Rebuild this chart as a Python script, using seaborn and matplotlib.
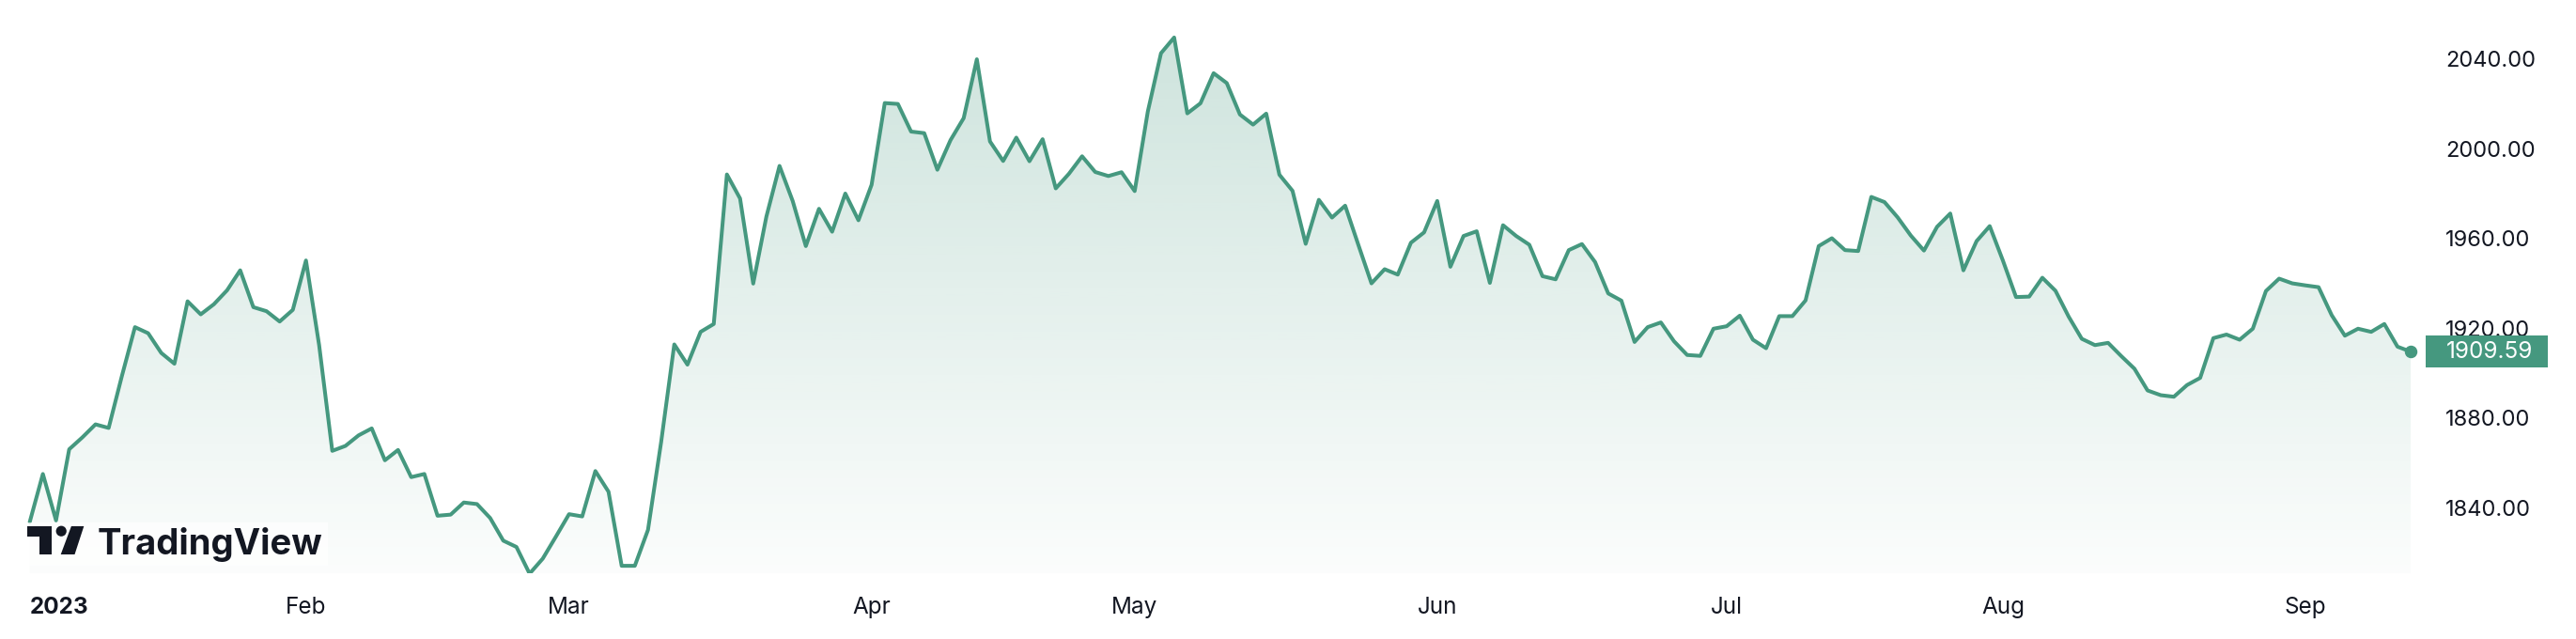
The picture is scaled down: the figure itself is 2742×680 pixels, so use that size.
import numpy as np
import pandas as pd
import matplotlib
matplotlib.use("Agg")
import matplotlib.pyplot as plt
import matplotlib.colors as mcolors
from matplotlib.patches import Rectangle, Circle, Polygon, FancyBboxPatch
from matplotlib.transforms import blended_transform_factory
import seaborn as sns

# daily closes, 3 Jan - 13 Sep 2023
price = [
    1833.7, 1855.1, 1834.4, 1866.1, 1871.4, 1877.2, 1875.6, 1898.6, 1920.5, 1917.8,
    1909.0, 1904.2, 1932.0, 1926.2, 1930.7, 1936.9, 1945.8, 1929.4, 1927.6, 1923.0,
    1928.2, 1950.2, 1912.5, 1865.4, 1867.6, 1872.3, 1875.4, 1861.2, 1865.8, 1853.7,
    1855.1, 1836.5, 1837.0, 1842.4, 1841.7, 1835.5, 1825.4, 1822.6, 1810.7, 1817.4,
    1827.2, 1837.2, 1836.2, 1856.4, 1847.2, 1814.2, 1814.2, 1830.2, 1869.3, 1912.8,
    1903.8, 1918.4, 1921.9, 1988.5, 1977.8, 1939.9, 1969.7, 1992.3, 1976.7, 1956.6,
    1973.2, 1963.0, 1980.0, 1968.1, 1983.9, 2020.3, 2019.9, 2007.6, 2006.9, 1990.6,
    2003.8, 2013.6, 2039.8, 2003.2, 1994.5, 2004.9, 1994.4, 2004.2, 1982.3, 1988.8,
    1996.6, 1989.6, 1987.8, 1989.5, 1981.1, 2016.6, 2042.5, 2049.5, 2015.7, 2020.2,
    2033.6, 2029.2, 2015.2, 2010.7, 2015.6, 1988.4, 1981.2, 1957.6, 1977.2, 1969.3,
    1974.6, 1957.2, 1940.0, 1946.3, 1943.9, 1958.1, 1962.7, 1976.7, 1947.4, 1961.1,
    1963.2, 1940.2, 1965.9, 1961.1, 1957.2, 1943.2, 1941.8, 1954.8, 1957.5, 1949.5,
    1935.5, 1932.3, 1913.9, 1920.5, 1922.6, 1914.2, 1908.1, 1907.7, 1919.8, 1920.9,
    1925.6, 1914.9, 1911.1, 1925.4, 1925.4, 1932.4, 1956.6, 1960.1, 1954.8, 1954.4,
    1978.5, 1976.2, 1969.4, 1961.3, 1954.6, 1965.2, 1971.1, 1945.8, 1958.8, 1965.5,
    1950.2, 1933.9, 1934.1, 1942.5, 1936.7, 1925.2, 1915.3, 1912.5, 1913.5, 1907.6,
    1902.0, 1892.3, 1890.2, 1889.5, 1894.7, 1897.9, 1915.6, 1917.2, 1914.9, 1919.8,
    1936.6, 1942.1, 1940.0, 1939.1, 1938.3, 1925.8, 1916.7, 1919.8, 1918.4, 1921.9,
    1911.8, 1909.59,
]
dates = pd.bdate_range("2023-01-03", periods=len(price))
month_labels = ["2023", "Feb", "Mar", "Apr", "May", "Jun", "Jul", "Aug", "Sep"]
y_ticks = [1840, 1880, 1920, 1960, 2000, 2040]
last_label = "1909.59"

GREEN = "#45987f"
TEXT = "#131722"

sns.set_style("white")
plt.rcParams["font.family"] = ["Inter", "DejaVu Sans"]

W, H = 2742, 680
fig = plt.figure(figsize=(W / 100, H / 100), dpi=100)
fig.patch.set_facecolor("white")
ax = fig.add_axes([0, 70 / H, 2580 / W, 610 / H])

df = pd.DataFrame({"date": dates, "price": price})
df["i"] = np.arange(len(df))

y_lo, y_hi = 1810.9, 2066.2
x_lo, x_hi = -2.26, 182.0

# gradient area under the line
rgba = np.zeros((256, 1, 4))
rgba[..., :3] = mcolors.to_rgb(GREEN)
rgba[..., 3] = np.linspace(0.28, 0.02, 256)[:, None]
im = ax.imshow(rgba, extent=[x_lo, x_hi, y_lo, y_hi], origin="upper",
               aspect="auto", zorder=1)
poly = ax.fill_between(df["i"], df["price"], y_lo, facecolor="none", edgecolor="none")
im.set_clip_path(poly.get_paths()[0], transform=ax.transData)

sns.lineplot(data=df, x="i", y="price", ax=ax, color=GREEN, linewidth=2.9, zorder=3)
ax.scatter(df["i"].iloc[-1], df["price"].iloc[-1], s=75, color=GREEN, zorder=4)

ax.set_xlim(x_lo, x_hi)
ax.set_ylim(y_lo, y_hi)

# month ticks at first bar of each month
first = df.groupby(df["date"].dt.month)["i"].first().values
ax.set_xticks(first)
ax.set_xticklabels(month_labels)
lbls = ax.get_xticklabels()
lbls[0].set_ha("left")
lbls[0].set_fontweight("bold")
ax.tick_params(axis="x", length=0, pad=18, labelsize=17.5, labelcolor=TEXT)

ax.yaxis.tick_right()
ax.set_yticks(y_ticks)
ax.set_yticklabels([f"{v:.2f}" for v in y_ticks])
ax.tick_params(axis="y", length=0, pad=16.5, labelsize=17, labelcolor=TEXT)
ax.set_xlabel("")
ax.set_ylabel("")
ax.grid(False)
sns.despine(ax=ax, left=True, bottom=True)
ax.spines["right"].set_visible(False)

# last price tag
tr = blended_transform_factory(fig.transFigure, ax.transData)
ax.add_patch(Rectangle((2582 / W, float(price[-1]) - 7.1), 130 / W, 14.2,
                       transform=tr, facecolor=GREEN, edgecolor="none",
                       clip_on=False, zorder=6))
ax.text(2604 / W, price[-1], last_label, transform=tr, color="white",
        fontsize=17.5, va="center", ha="left", zorder=7, clip_on=False)

# TradingView watermark
ov = fig.add_axes([0, 0, 1, 1], zorder=10)
ov.set_xlim(0, W)
ov.set_ylim(H, 0)
ov.axis("off")
ov.patch.set_alpha(0)
ov.add_patch(Rectangle((27, 556), 322, 46, facecolor="white", alpha=0.7, edgecolor="none"))
ov.add_patch(Rectangle((29, 560), 25.5, 10.7, facecolor=TEXT, edgecolor="none"))
ov.add_patch(Rectangle((42.4, 560), 12.1, 30, facecolor=TEXT, edgecolor="none"))
ov.add_patch(Circle((65.2, 565.2), 5.6, facecolor=TEXT, edgecolor="none"))
ov.add_patch(Polygon([(75.9, 560), (89.3, 560), (79.5, 590), (64.7, 590)],
                     closed=True, facecolor=TEXT, edgecolor="none"))
ov.text(104, 590, "TradingView", fontsize=27.5, fontweight="bold", color=TEXT,
        va="baseline", ha="left")

fig.savefig("out.png", dpi=100, facecolor="white")
